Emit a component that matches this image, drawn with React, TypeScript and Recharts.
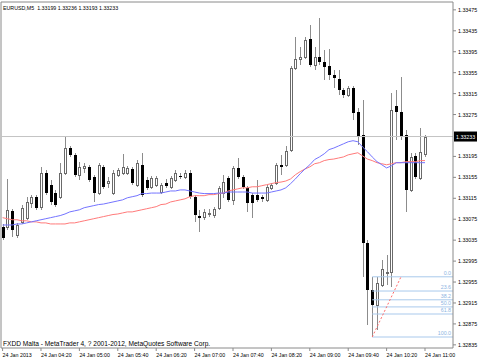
import { ComposedChart, Bar, Line, XAxis, YAxis, ReferenceLine } from "recharts";

const FONT = "'Liberation Sans', Arial, sans-serif";
const SYMBOL = "EURUSD,M5";
const COPYRIGHT = "FXDD Malta - MetaTrader 4, ? 2001-2012, MetaQuotes Software Corp.";

// one label every 8 bars (40 minutes of M5 bars)
const TIME_LABELS = [
  "24 Jan 2013", "24 Jan 04:20", "24 Jan 05:00", "24 Jan 05:40",
  "24 Jan 06:20", "24 Jan 07:00", "24 Jan 07:40", "24 Jan 08:20",
  "24 Jan 09:00", "24 Jan 09:40", "24 Jan 10:20", "24 Jan 11:00",
];
const BARS_PER_LABEL = 8;

const OPEN = [
  1.33061, 1.33061, 1.33091, 1.33045, 1.3307, 1.33078, 1.33106, 1.33118, 1.33099, 1.33164,
  1.33141, 1.33125, 1.33118, 1.33164, 1.33211, 1.33198, 1.3316, 1.33173, 1.33175, 1.33156,
  1.33125, 1.33175, 1.33145, 1.33125, 1.3316, 1.33164, 1.33164, 1.33171, 1.33141, 1.33179,
  1.3315, 1.33137, 1.33141, 1.33127, 1.33145, 1.33137, 1.3315, 1.33158, 1.33156, 1.33164,
  1.33118, 1.33082, 1.3308, 1.33085, 1.33084, 1.33097, 1.33125, 1.33154, 1.33112, 1.33173,
  1.33156, 1.33135, 1.33122, 1.33122, 1.33118, 1.33112, 1.33135, 1.33145, 1.33179, 1.33179,
  1.33208, 1.33364, 1.33381, 1.33385, 1.3342, 1.3337, 1.33385, 1.33376, 1.33368, 1.33351,
  1.33343, 1.33322, 1.33313, 1.33326, 1.3328, 1.33236, 1.3303, 1.3294, 1.32912, 1.3295,
  1.32973, 1.32975, 1.33292, 1.3328, 1.33236, 1.33131, 1.33196, 1.33154, 1.33199,
];
const HIGH = [
  1.33066, 1.33152, 1.33095, 1.33068, 1.33103, 1.33118, 1.33122, 1.33122, 1.33175, 1.33169,
  1.3315, 1.33131, 1.33183, 1.33232, 1.33215, 1.33202, 1.33185, 1.33183, 1.33179, 1.3316,
  1.33183, 1.33179, 1.33156, 1.33169, 1.33173, 1.332, 1.33177, 1.33175, 1.33189, 1.33202,
  1.33156, 1.33158, 1.33158, 1.33145, 1.33152, 1.33158, 1.33169, 1.33164, 1.33169, 1.33169,
  1.33122, 1.33093, 1.33095, 1.33095, 1.33099, 1.33139, 1.3316, 1.33158, 1.33177, 1.33192,
  1.3316, 1.33139, 1.33125, 1.3315, 1.33122, 1.33141, 1.33145, 1.33183, 1.33198, 1.33215,
  1.33368, 1.33423, 1.33404, 1.33423, 1.33446, 1.33404, 1.3346, 1.33399, 1.334, 1.3336,
  1.3336, 1.33326, 1.3333, 1.3333, 1.33288, 1.33303, 1.33036, 1.32965, 1.32965, 1.32998,
  1.33007, 1.33316, 1.33322, 1.33347, 1.33246, 1.33202, 1.33202, 1.3325, 1.33236,
];
const LOW = [
  1.33036, 1.33055, 1.33041, 1.3304, 1.33066, 1.33074, 1.33097, 1.33093, 1.33093, 1.33122,
  1.33103, 1.33099, 1.33114, 1.3316, 1.33194, 1.33156, 1.3315, 1.33164, 1.33146, 1.33108,
  1.33122, 1.33133, 1.33135, 1.33122, 1.33156, 1.3316, 1.3316, 1.33141, 1.33137, 1.33118,
  1.33131, 1.33133, 1.33137, 1.33124, 1.33135, 1.33133, 1.33146, 1.33152, 1.33152, 1.33114,
  1.3307, 1.33051, 1.33074, 1.3308, 1.33078, 1.33093, 1.33116, 1.33108, 1.33103, 1.33152,
  1.33133, 1.33089, 1.33078, 1.33108, 1.33108, 1.33108, 1.33131, 1.33141, 1.3316, 1.33175,
  1.33204, 1.3336, 1.3337, 1.33381, 1.33366, 1.3336, 1.3337, 1.33341, 1.33341, 1.33326,
  1.33313, 1.33307, 1.33309, 1.33265, 1.33217, 1.32965, 1.32873, 1.3285, 1.32864, 1.32946,
  1.3295, 1.32946, 1.33227, 1.33227, 1.33089, 1.33127, 1.33152, 1.3315, 1.33193,
];
const CLOSE = [
  1.3304, 1.33093, 1.33055, 1.33064, 1.33097, 1.33108, 1.33118, 1.33097, 1.33164, 1.33125,
  1.33108, 1.33103, 1.33164, 1.33211, 1.33198, 1.3316, 1.33175, 1.33177, 1.3315, 1.33125,
  1.33179, 1.33137, 1.33148, 1.33164, 1.33169, 1.33175, 1.33173, 1.33145, 1.33183, 1.33122,
  1.33135, 1.33154, 1.33154, 1.33141, 1.33139, 1.33154, 1.33164, 1.33156, 1.33164, 1.33118,
  1.33084, 1.33078, 1.33089, 1.33087, 1.33095, 1.33135, 1.33146, 1.33112, 1.33173, 1.33156,
  1.33137, 1.33106, 1.33106, 1.33112, 1.33114, 1.33137, 1.33141, 1.33179, 1.33175, 1.33206,
  1.33364, 1.33381, 1.33385, 1.33418, 1.3337, 1.33385, 1.33376, 1.33366, 1.33351, 1.33345,
  1.33322, 1.33313, 1.33326, 1.33278, 1.33232, 1.3303, 1.3294, 1.32912, 1.32954, 1.32979,
  1.32975, 1.33284, 1.3328, 1.33232, 1.33131, 1.33194, 1.33156, 1.33204, 1.33233,
];
// blue moving average
const MA_FAST = [
  1.33064, 1.33064, 1.33064, 1.33066, 1.33066, 1.33068, 1.3307, 1.33072, 1.33074, 1.33076,
  1.33078, 1.3308, 1.33082, 1.33085, 1.33089, 1.33091, 1.33093, 1.33097, 1.33099, 1.33101,
  1.33103, 1.33104, 1.33106, 1.33108, 1.3311, 1.33112, 1.33116, 1.33118, 1.3312, 1.33124,
  1.33124, 1.33125, 1.33125, 1.33125, 1.33127, 1.33129, 1.33129, 1.33131, 1.33131, 1.33129,
  1.33127, 1.33125, 1.33124, 1.33124, 1.33124, 1.33125, 1.33125, 1.33127, 1.33127, 1.33127,
  1.33127, 1.33127, 1.33125, 1.33125, 1.33125, 1.33125, 1.33127, 1.33129, 1.33131, 1.33135,
  1.33143, 1.33152, 1.33162, 1.33171, 1.33179, 1.33189, 1.33194, 1.332, 1.33208, 1.33211,
  1.33215, 1.33219, 1.33223, 1.33225, 1.33223, 1.33213, 1.33204, 1.33194, 1.33185, 1.33179,
  1.33173, 1.33177, 1.33183, 1.33183, 1.33183, 1.33183, 1.33183, 1.33183, 1.33183,
];
// red moving average
const MA_SLOW = [
  1.33078, 1.33076, 1.33074, 1.33074, 1.33072, 1.33072, 1.3307, 1.3307, 1.33068, 1.33068,
  1.33066, 1.33066, 1.33066, 1.33066, 1.33068, 1.33068, 1.3307, 1.33072, 1.33074, 1.33076,
  1.33078, 1.3308, 1.33082, 1.33084, 1.33085, 1.33087, 1.33089, 1.33089, 1.33091, 1.33093,
  1.33095, 1.33097, 1.33099, 1.33103, 1.33104, 1.33108, 1.3311, 1.33112, 1.33114, 1.33118,
  1.3312, 1.3312, 1.3312, 1.33122, 1.33122, 1.33124, 1.33125, 1.33129, 1.33131, 1.33133,
  1.33135, 1.33135, 1.33137, 1.33137, 1.33139, 1.33141, 1.33143, 1.33145, 1.33146, 1.33148,
  1.33152, 1.3316, 1.33166, 1.33171, 1.33175, 1.33181, 1.33183, 1.33187, 1.33189, 1.3319,
  1.33192, 1.33194, 1.33198, 1.332, 1.33202, 1.33196, 1.3319, 1.33187, 1.33183, 1.33181,
  1.33179, 1.33181, 1.33183, 1.33183, 1.33185, 1.33185, 1.33185, 1.33187, 1.33187,
];

const PRICE_TICKS = [
  1.33475, 1.33435, 1.33395, 1.33355, 1.33315, 1.33275, 1.33195, 1.33155,
  1.33115, 1.33075, 1.33035, 1.32995, 1.32955, 1.32915, 1.32875, 1.32835,
];
const PRICE_DOMAIN: [number, number] = [1.32829, 1.3349];
const BAR_DOMAIN: [number, number] = [-0.33, 93.83];

const FIB_LEVELS = [0, 23.6, 38.2, 50, 61.8, 100];
const FIB_FROM = { bar: 77, price: 1.3285 };
const FIB_TO = { bar: 83, price: 1.32965 };

const rows = OPEN.map((o, i) => ({
  i,
  o,
  h: HIGH[i],
  l: LOW[i],
  c: CLOSE[i],
  range: [LOW[i], HIGH[i]],
  fast: MA_FAST[i],
  slow: MA_SLOW[i],
}));
const last = rows[rows.length - 1];

const fmt = (v: number) => v.toFixed(5);

function Candle(props: any) {
  const { x, y, width, height, payload } = props;
  if (x == null || y == null) return null;
  const top = Math.min(y, y + height);
  const span = Math.abs(height);
  const { o, h, l, c } = payload;
  const toY = (v: number) => top + ((h - v) / (h - l || 1)) * span;
  const cx = Math.round(x + width / 2) + 0.5;
  const bt = Math.round(toY(Math.max(o, c)));
  const bb = Math.round(toY(Math.min(o, c)));
  const up = c >= o;
  return (
    <g>
      <line x1={cx} x2={cx} y1={Math.round(top)} y2={Math.round(top + span)} stroke="#8c8c8c" />
      {up ? (
        <rect x={cx - 1} y={bt + 0.5} width={2} height={Math.max(bb - bt, 1)} fill="#fff" stroke="#6a6a6a" />
      ) : (
        <rect x={cx - 1.5} y={bt} width={3} height={Math.max(bb - bt, 1)} fill="#000" />
      )}
    </g>
  );
}

function TimeTick({ x, y, payload }: any) {
  return (
    <text x={x} y={y + 4} fontSize={5.3} fontFamily={FONT} fill="#000" textAnchor="start">
      {TIME_LABELS[payload.value / BARS_PER_LABEL]}
    </text>
  );
}

function PriceTick({ x, y, payload }: any) {
  return (
    <text x={x} y={y + 2} fontSize={5.3} fontFamily={FONT} fill="#000" textAnchor="start">
      {fmt(payload.value)}
    </text>
  );
}

function PriceBox({ viewBox }: any) {
  const { x, y, width } = viewBox;
  return (
    <g>
      <rect x={x + width + 1} y={y - 5} width={23} height={10} fill="#000" />
      <text x={x + width + 3} y={y + 2} fontSize={5.3} fontFamily={FONT} fill="#fff">
        {fmt(last.c)}
      </text>
    </g>
  );
}

export default function App() {
  const fibRange = FIB_TO.price - FIB_FROM.price;
  return (
    <div style={{ position: "relative", width: 480, height: 360, background: "#fff" }}>
      <style>{"body{margin:0}"}</style>
      <ComposedChart
        width={480}
        height={360}
        data={rows}
        margin={{ top: 2, right: 0, bottom: 0, left: 1 }}
      >
        <XAxis
          type="number"
          dataKey="i"
          domain={BAR_DOMAIN}
          allowDataOverflow
          ticks={TIME_LABELS.map((_, k) => k * BARS_PER_LABEL)}
          interval={0}
          height={12}
          tickSize={3}
          tick={<TimeTick />}
          stroke="#8a8a8a"
        />
        <YAxis
          orientation="right"
          type="number"
          domain={PRICE_DOMAIN}
          allowDataOverflow
          ticks={PRICE_TICKS}
          interval={0}
          width={27}
          tickSize={3}
          tick={<PriceTick />}
          stroke="#8a8a8a"
        />
        <ReferenceLine x={BAR_DOMAIN[0]} stroke="#8a8a8a" />
        <ReferenceLine y={PRICE_DOMAIN[1]} stroke="#8a8a8a" />
        <ReferenceLine y={last.c} stroke="#c4c4c4" label={(p: any) => <PriceBox {...p} />} />
        <Bar dataKey="range" shape={<Candle />} isAnimationActive={false} />
        <Line type="linear" dataKey="slow" stroke="#ff7a7a" strokeWidth={1} dot={false} isAnimationActive={false} />
        <Line type="linear" dataKey="fast" stroke="#7474ff" strokeWidth={1} dot={false} isAnimationActive={false} />
        {FIB_LEVELS.map((lv) => {
          const p = FIB_TO.price - (lv / 100) * fibRange;
          return (
            <ReferenceLine
              key={lv}
              ifOverflow="visible"
              segment={[
                { x: FIB_FROM.bar, y: p },
                { x: BAR_DOMAIN[1], y: p },
              ]}
              stroke="#a9c9ec"
              label={{
                value: lv.toFixed(1),
                position: "insideBottomRight",
                offset: 2,
                fill: "#8db4df",
                fontSize: 5.3,
                fontFamily: FONT,
              }}
            />
          );
        })}
        <ReferenceLine
          ifOverflow="visible"
          segment={[
            { x: FIB_FROM.bar, y: FIB_FROM.price },
            { x: FIB_TO.bar, y: FIB_TO.price },
          ]}
          stroke="#ff6a6a"
          strokeDasharray="2 2"
        />
      </ComposedChart>
      <svg
        width={480}
        height={360}
        style={{ position: "absolute", left: 0, top: 0, pointerEvents: "none" }}
      >
        <text x={3} y={10} fontSize={5.3} fontFamily={FONT} fill="#000" style={{ whiteSpace: "pre" }}>
          {`${SYMBOL}  ${fmt(last.o)} ${fmt(last.h)} ${fmt(last.l)} ${fmt(last.c)}`}
        </text>
        <text x={3} y={346} fontSize={6.6} fontFamily={FONT} fill="#000">
          {COPYRIGHT}
        </text>
      </svg>
    </div>
  );
}
